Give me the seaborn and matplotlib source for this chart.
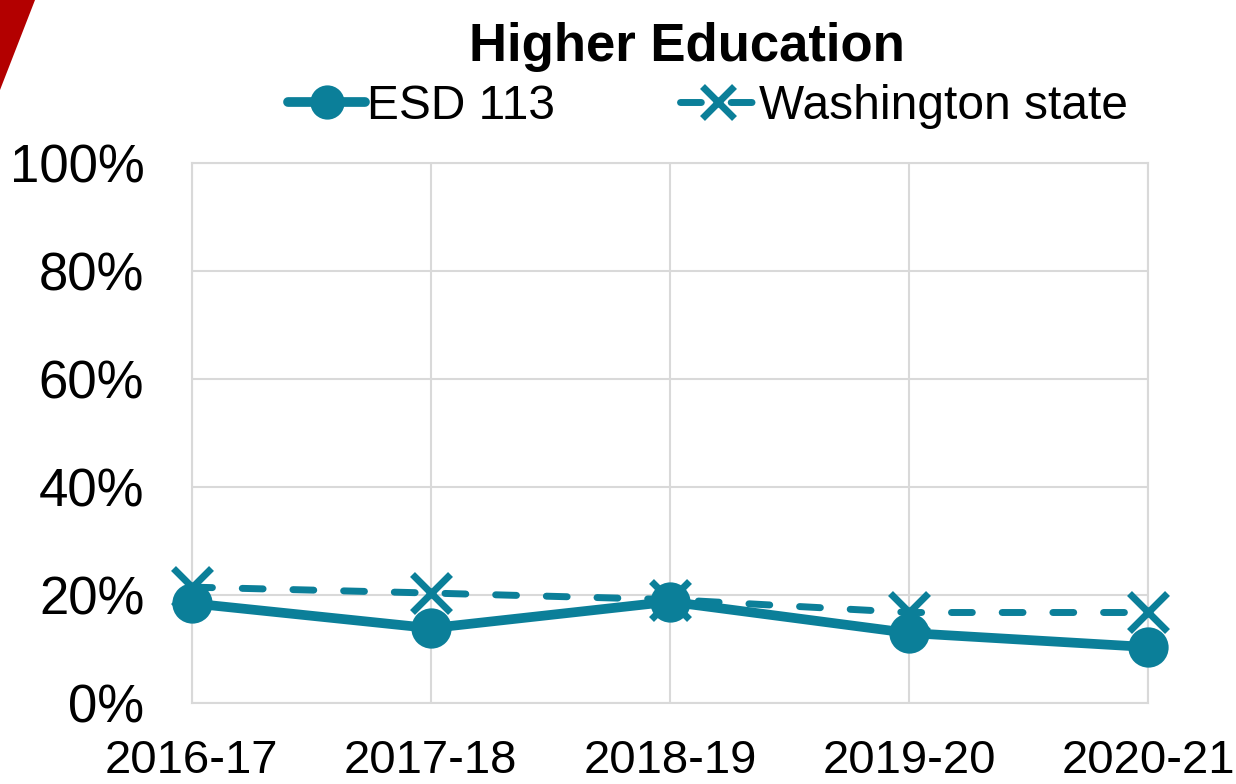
import pandas as pd
import seaborn as sns
import matplotlib.pyplot as plt
from matplotlib.patches import Polygon

# values (percent)
years = ['2016-17', '2017-18', '2018-19', '2019-20', '2020-21']
esd_113 = [18.5, 13.9, 18.8, 13.0, 10.4]
washington = [21.5, 20.4, 19.2, 16.8, 16.8]

teal = '#0b7f99'

sns.set_theme(style='white')
plt.rcParams['font.family'] = ['Liberation Sans', 'DejaVu Sans']
plt.rcParams['text.color'] = 'black'
plt.rcParams['xtick.color'] = 'black'
plt.rcParams['ytick.color'] = 'black'

df = pd.DataFrame({'year': years, 'ESD 113': esd_113, 'Washington state': washington})
df['pos'] = range(len(years))

fig = plt.figure(figsize=(12.36, 7.84), dpi=100)
ax = fig.add_axes([0.155, 0.103, 0.774, 0.689])

sns.lineplot(data=df, x='pos', y='Washington state', ax=ax, color=teal,
             linewidth=5, linestyle=(0, (3, 4.3)), dash_capstyle='round',
             marker='x', markersize=27, markeredgewidth=5, markeredgecolor=teal,
             label='Washington state', clip_on=False, zorder=3)
sns.lineplot(data=df, x='pos', y='ESD 113', ax=ax, color=teal,
             linewidth=7, marker='o', markersize=29, markeredgewidth=0,
             label='ESD 113', clip_on=False, zorder=4)

ax.set_xlim(0, len(years) - 1)
ax.set_ylim(0, 100)
ax.set_xticks(range(len(years)))
ax.set_xticklabels(years)
ax.set_yticks(range(0, 101, 20))
ax.set_yticklabels([f'{v}%' for v in range(0, 101, 20)])
ax.tick_params(axis='y', labelsize=38, pad=34, length=0)
ax.tick_params(axis='x', labelsize=34, pad=26, length=0)
ax.set_xlabel('')
ax.set_ylabel('')
ax.grid(True, color='#d9d9d9', linewidth=1.5)
for s in ax.spines.values():
    s.set_color('#d9d9d9')
    s.set_linewidth(1.5)

handles, labels = ax.get_legend_handles_labels()
order = [labels.index('ESD 113'), labels.index('Washington state')]
ax.legend([handles[i] for i in order], [labels[i] for i in order],
          loc='center', bbox_to_anchor=(0.54, 1.105), ncol=2, frameon=False,
          fontsize=34.5, handlelength=1.6, handletextpad=0.05, columnspacing=2.6,
          markerscale=0.85)

fig.text(0.556, 0.94, 'Higher Education', ha='center', va='center',
         fontsize=38, fontweight='bold')

# red decorative corner
fig.patches.append(Polygon([[0, 1], [35 / 1236, 1], [0, 1 - 90 / 784]],
                           closed=True, transform=fig.transFigure,
                           facecolor='#b30000', edgecolor='none'))

fig.savefig('out.png', dpi=100)
